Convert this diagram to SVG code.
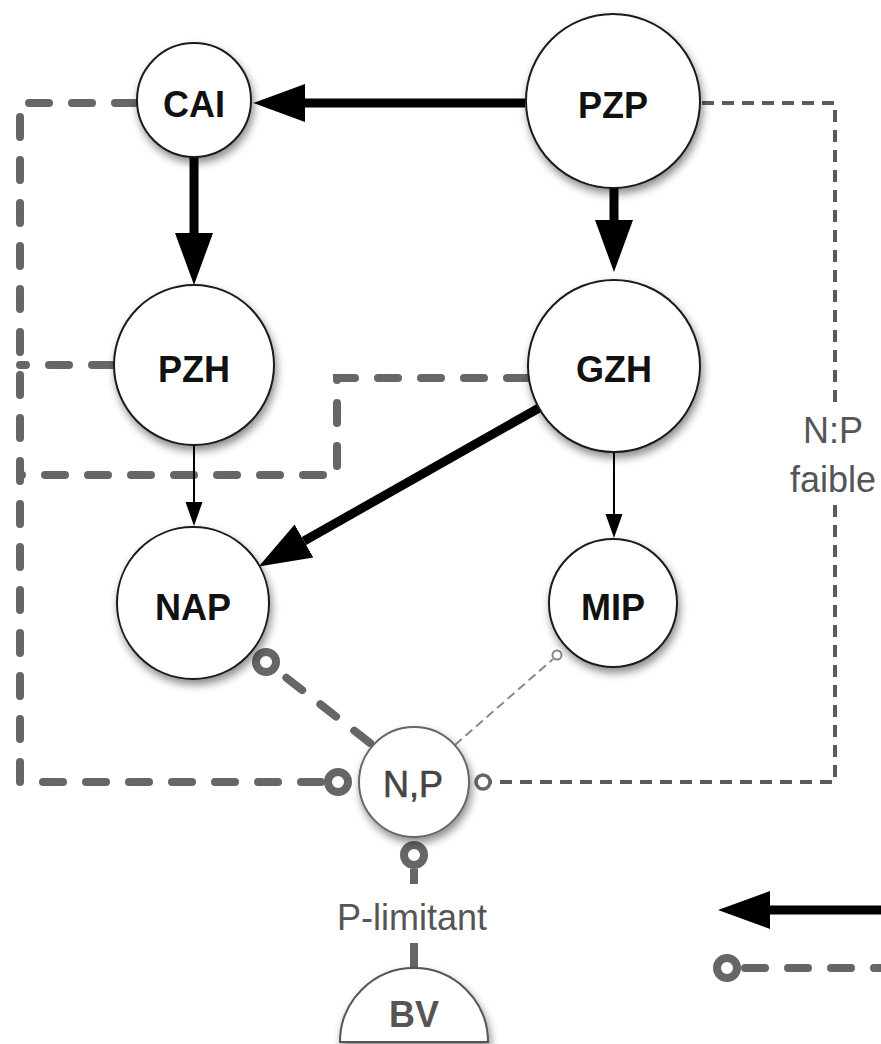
<svg xmlns="http://www.w3.org/2000/svg" width="881" height="1044" viewBox="0 0 881 1044">
<style>
.node circle, .node path{fill:#fff;stroke:#1a1a1a;stroke-width:2}
.lbl{font-family:"Liberation Sans",Arial,sans-serif;font-weight:bold;font-size:36px;fill:#111;text-anchor:middle}
.glbl{font-family:"Liberation Sans",Arial,sans-serif;font-size:36px;fill:#555;text-anchor:middle}
.thick{stroke:#000;stroke-width:9;fill:none}
.thin{stroke:#000;stroke-width:2;fill:none}
.gdash{stroke:#666;stroke-width:8;fill:none;stroke-linecap:round;stroke-dasharray:20 23}
.fdash{stroke:#5a5a5a;stroke-width:4;fill:none;stroke-dasharray:12 8}
.mdash{stroke:#888;stroke-width:2;fill:none;stroke-dasharray:9 5}
.ring{fill:#fff;stroke:#666;stroke-width:8}
.sring{fill:#fff;stroke:#666;stroke-width:3.5}
.tring{fill:#fff;stroke:#888;stroke-width:2}
.stub{stroke:#666;stroke-width:8;fill:none}
</style>
<defs>
<marker id="bigHead" viewBox="0 -20 54 40" markerWidth="54" markerHeight="40" refX="0" refY="0" orient="auto" markerUnits="userSpaceOnUse">
<path d="M0,-19 L52,0 L0,19 Z" fill="#000"/>
</marker>
<marker id="smallHead" viewBox="0 -9 26 18" markerWidth="26" markerHeight="18" refX="0" refY="0" orient="auto" markerUnits="userSpaceOnUse">
<path d="M0,-8.5 L24,0 L0,8.5 Z" fill="#000"/>
</marker>
<filter id="shadow" x="-30%" y="-30%" width="160%" height="170%">
<feDropShadow dx="2" dy="5" stdDeviation="4" flood-color="#000" flood-opacity="0.45"/>
</filter>
</defs>

<g id="connectors">
<path class="gdash" d="M135,103 H20 V782 H323"/>
<path class="gdash" d="M112,365 H20"/>
<path class="gdash" d="M527,378 H337 V475 H20"/>
<circle class="ring" cx="338" cy="782" r="10"/>
<path class="gdash" d="M370,743 L279,672"/>
<circle class="ring" cx="266" cy="662" r="10"/>
<circle class="ring" cx="414" cy="855" r="10"/>
<path class="stub" d="M414,869 V884"/>
<path class="stub" d="M414,943 V968"/>
<path class="fdash" d="M702,103 H835 V408 M835,505 V782 H491"/>
<circle class="sring" cx="483" cy="782" r="7"/>
<path class="mdash" d="M455,745 L553,659"/>
<circle class="tring" cx="557" cy="655" r="4.5"/>
<path class="thick" d="M525,103 H305" marker-end="url(#bigHead)"/>
<path class="thick" d="M614,188 V220" marker-end="url(#bigHead)"/>
<path class="thick" d="M194,157 V233" marker-end="url(#bigHead)"/>
<path class="thick" d="M539,408 L304,541" marker-end="url(#bigHead)"/>
<path class="thin" d="M194,445 V502" marker-end="url(#smallHead)"/>
<path class="thin" d="M614,452 V514" marker-end="url(#smallHead)"/>
<path class="thick" d="M881,910 H770" marker-end="url(#bigHead)"/>
<path class="gdash" d="M745,968 H881"/>
<circle class="ring" cx="727" cy="968" r="10"/>
</g>

<g id="CAI" class="node"><circle cx="194" cy="100" r="57" filter="url(#shadow)"/><text class="lbl" x="194" y="117">CAI</text></g>
<g id="PZP" class="node"><circle cx="613" cy="101" r="87" filter="url(#shadow)"/><text class="lbl" x="613" y="118">PZP</text></g>
<g id="PZH" class="node"><circle cx="194" cy="365" r="80" filter="url(#shadow)"/><text class="lbl" x="194" y="382">PZH</text></g>
<g id="GZH" class="node"><circle cx="614" cy="366" r="86" filter="url(#shadow)"/><text class="lbl" x="614" y="382">GZH</text></g>
<g id="NAP" class="node"><circle cx="193" cy="603" r="76" filter="url(#shadow)"/><text class="lbl" x="193" y="620">NAP</text></g>
<g id="MIP" class="node"><circle cx="613" cy="603" r="64" filter="url(#shadow)"/><text class="lbl" x="613" y="620">MIP</text></g>
<g id="NP" class="node"><circle cx="414" cy="782" r="55" filter="url(#shadow)" style="stroke:#666"/><text class="glbl" x="413" y="797" style="fill:#444;stroke:#444;stroke-width:0.6">N,P</text></g>
<g id="BV" class="node"><path d="M340,1042 A74,74 0 0 1 488,1042 Z" filter="url(#shadow)" style="stroke:#555"/><text class="lbl" x="414" y="1027" style="fill:#555">BV</text></g>

<g id="labels">
<text class="glbl" x="833" y="443">N:P</text>
<text class="glbl" x="833" y="492">faible</text>
<text class="glbl" x="412" y="930">P-limitant</text>
</g>
</svg>
